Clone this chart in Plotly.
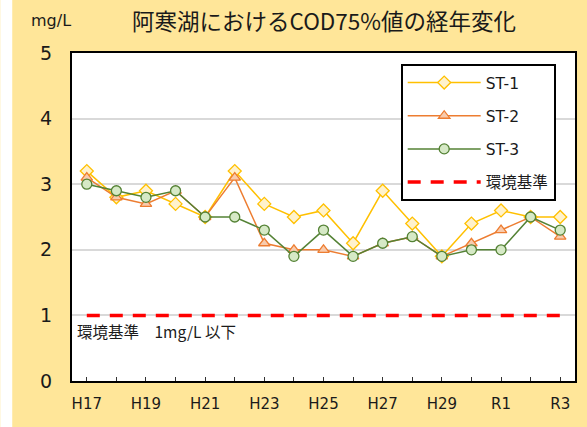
import plotly.graph_objects as go

years = ["H17", "H18", "H19", "H20", "H21", "H22", "H23", "H24", "H25",
         "H26", "H27", "H28", "H29", "H30", "R1", "R2", "R3"]
st1 = [3.2, 2.8, 2.9, 2.7, 2.5, 3.2, 2.7, 2.5, 2.6, 2.1, 2.9, 2.4, 1.9, 2.4, 2.6, 2.5, 2.5]
st2 = [3.1, 2.8, 2.7, 2.9, 2.5, 3.1, 2.1, 2.0, 2.0, 1.9, 2.1, 2.2, 1.9, 2.1, 2.3, 2.5, 2.2]
st3 = [3.0, 2.9, 2.8, 2.9, 2.5, 2.5, 2.3, 1.9, 2.3, 1.9, 2.1, 2.2, 1.9, 2.0, 2.0, 2.5, 2.3]
standard = [1.0] * len(years)
tick_labels = [y if i % 2 == 0 else "" for i, y in enumerate(years)]
y_ticks = [0, 1, 2, 3, 4, 5]

FONT = "DejaVu Sans, Noto Sans CJK JP, sans-serif"
JFONT = "Noto Sans CJK JP, DejaVu Sans, sans-serif"

fig = go.Figure()
fig.add_trace(go.Scatter(
    x=years, y=st1, name="ST-1", mode="lines+markers", legendgroup="a",
    line=dict(color="#FFC000", width=1.5),
    marker=dict(symbol="diamond", size=10, color="#FFF2CC",
                line=dict(color="#FFC000", width=1.3))))
fig.add_trace(go.Scatter(
    x=years, y=st2, name="ST-2", mode="lines+markers", legendgroup="b",
    line=dict(color="#ED7D31", width=1.5),
    marker=dict(symbol="triangle-up", size=10, color="#F8CBAD",
                line=dict(color="#ED7D31", width=1.3))))
fig.add_trace(go.Scatter(
    x=years, y=st3, name="ST-3", mode="lines+markers", legendgroup="c",
    line=dict(color="#548235", width=1.5),
    marker=dict(symbol="circle", size=10, color="#D6E9C6",
                line=dict(color="#548235", width=1.3))))
fig.add_trace(go.Scatter(
    x=years, y=standard, name="環境基準", mode="lines", legendgroup="d",
    line=dict(color="#FF0000", width=3.5, dash="13px,10px")))

fig.update_layout(
    width=587, height=427,
    margin=dict(l=72, r=10, t=53, b=46),
    paper_bgcolor="#FFE699",
    plot_bgcolor="white",
    font=dict(family=FONT, color="#1a1a1a"),
    showlegend=True,
    legend=dict(
        x=(402 - 72) / 505, y=(381 - 64) / 328, xanchor="left", yanchor="top",
        bgcolor="white", bordercolor="black", borderwidth=2,
        font=dict(family=FONT, size=15.5),
        traceorder="grouped", tracegroupgap=10, itemwidth=73,
    ),
    xaxis=dict(
        type="category", categoryorder="array", categoryarray=years,
        range=[-0.5, len(years) - 0.5],
        tickmode="array", tickvals=years, ticktext=tick_labels,
        ticks="inside", ticklen=4, tickcolor="#333", tickwidth=1,
        showline=True, linecolor="black", linewidth=2, mirror=True,
        showgrid=False, tickfont=dict(size=15, family=FONT),
        ticklabelstandoff=8,
    ),
    yaxis=dict(
        range=[0, 5], tickmode="array", tickvals=y_ticks,
        showline=True, linecolor="black", linewidth=2, mirror=True,
        showgrid=True, gridcolor="#D9D9D9", gridwidth=1.5, zeroline=False,
        ticks="", tickfont=dict(size=19, family=FONT),
        ticklabelstandoff=14,
    ),
    shapes=[dict(type="rect", xref="paper", yref="paper",
                 x0=-72 / 505, x1=-60 / 505, y0=-0.2, y1=1.2,
                 fillcolor="white", line=dict(width=0), layer="below")],
    annotations=[
        dict(text="阿寒湖におけるCOD75%値の経年変化", xref="paper", yref="paper",
             x=(325 - 72) / 505, y=1 + (53 - 20) / 328, xanchor="center", yanchor="middle",
             showarrow=False, font=dict(family=JFONT, size=22.5, color="#1a1a1a")),
        dict(text="mg/L", xref="paper", yref="paper",
             x=(51 - 72) / 505, y=1 + (53 - 20) / 328, xanchor="center", yanchor="middle",
             showarrow=False, font=dict(family=FONT, size=16, color="#1a1a1a")),
        dict(text="環境基準　1mg/L 以下", xref="paper", yref="paper",
             x=(75 - 72) / 505, y=(381 - 331) / 328, xanchor="left", yanchor="middle",
             showarrow=False, font=dict(family=JFONT, size=15.5, color="#1a1a1a")),
    ],
)

fig.write_html(
    "out.html",
    config={"displayModeBar": False},
    post_script="document.body.style.margin='0';document.body.style.overflow='hidden';"
                "document.body.style.background='#FFE699';",
)
